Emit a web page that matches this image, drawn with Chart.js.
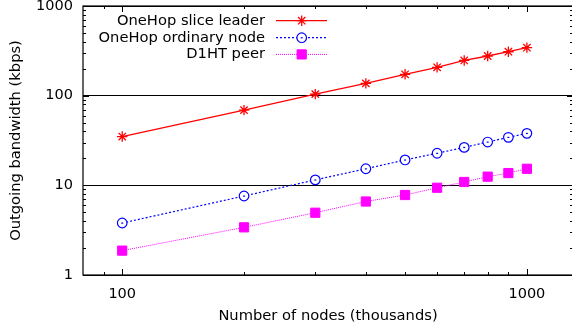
<!DOCTYPE html>
<html>
<head>
<meta charset="utf-8">
<title>Outgoing bandwidth vs. number of nodes</title>
<script src="https://cdn.jsdelivr.net/npm/chart.js"></script>
<style>
    html, body { margin: 0; padding: 0; overflow: hidden; background: #fff; }
    canvas { display: block; }
</style>
</head>
<body>
<canvas id="bwChart" width="576" height="333"></canvas>
<script>
    // number of nodes (thousands)
    const nodes = [100, 200, 300, 400, 500, 600, 700, 800, 900, 1000];
    // outgoing bandwidth (kbps)
    const sliceLeader = [35, 69, 104, 137, 173, 207, 247, 277, 309, 343];
    const ordinaryNode = [3.8, 7.6, 11.5, 15.3, 19.2, 22.8, 26.5, 30.4, 34.3, 38];
    const d1htPeer = [1.87, 3.4, 4.95, 6.6, 7.8, 9.4, 10.9, 12.5, 13.7, 15.3];

    const seriesNames = ['OneHop slice leader', 'OneHop ordinary node', 'D1HT peer'];
    const xTickValues = [100, 1000];
    const yTickValues = [1, 10, 100, 1000];

    const FONT = 'DejaVu Sans';

    function toPoints(ys) {
        return nodes.map((x, i) => ({ x: x, y: ys[i] }));
    }

    // draw a marker the same way the chart does
    function drawMarker(ctx, ds, x, y) {
        ctx.save();
        ctx.setLineDash([]);
        ctx.strokeStyle = ds.pointBorderColor;
        ctx.fillStyle = ds.pointBackgroundColor;
        ctx.lineWidth = ds.pointBorderWidth;
        Chart.helpers.drawPoint(ctx, {
            pointStyle: ds.pointStyle,
            radius: ds.pointRadius,
            rotation: 0,
            borderWidth: ds.pointBorderWidth
        }, x, y);
        ctx.restore();
    }

    // frame + inward tick marks on all four sides, gnuplot style
    const framePlugin = {
        id: 'frame',
        afterDraw(chart) {
            const ctx = chart.ctx;
            const a = chart.chartArea;
            const xs = chart.scales.x;
            const ys = chart.scales.y;
            ctx.save();
            ctx.strokeStyle = '#000';
            ctx.lineWidth = 1.2;
            ctx.strokeRect(a.left, a.top, a.right - a.left, a.bottom - a.top);

            ctx.lineWidth = 1;
            ctx.beginPath();
            [1, 10, 100].forEach(d => {
                for (let k = 1; k <= 9; k++) {
                    const py = Math.round(ys.getPixelForValue(k * d)) + 0.5;
                    const len = k === 1 ? 6 : 3;
                    ctx.moveTo(a.left, py); ctx.lineTo(a.left + len, py);
                    ctx.moveTo(a.right, py); ctx.lineTo(a.right - len, py);
                }
            });
            [90, 100, 200, 300, 400, 500, 600, 700, 800, 900, 1000].forEach(v => {
                const px = Math.round(xs.getPixelForValue(v)) + 0.5;
                const len = (v === 100 || v === 1000) ? 6 : 3;
                ctx.moveTo(px, a.bottom); ctx.lineTo(px, a.bottom - len);
                ctx.moveTo(px, a.top); ctx.lineTo(px, a.top + len);
            });
            ctx.stroke();
            ctx.restore();
        }
    };

    // small dash in the middle of the open circles
    const centreDotPlugin = {
        id: 'centreDot',
        afterDatasetsDraw(chart) {
            const ctx = chart.ctx;
            const meta = chart.getDatasetMeta(1);
            ctx.save();
            ctx.fillStyle = chart.data.datasets[1].borderColor;
            meta.data.forEach(pt => {
                ctx.fillRect(pt.x - 1, pt.y - 0.5, 2, 1.2);
            });
            ctx.restore();
        }
    };

    // key: right-aligned labels with line sample and marker
    const keyPlugin = {
        id: 'key',
        afterDraw(chart) {
            const ctx = chart.ctx;
            const textRight = 265, lineStart = 276, lineEnd = 327;
            const rows = [20.7, 37.7, 54.4];
            chart.data.datasets.forEach((ds, i) => {
                const y = rows[i];
                ctx.save();
                ctx.font = '14.7px "' + FONT + '"';
                ctx.fillStyle = '#000';
                ctx.textAlign = 'right';
                ctx.textBaseline = 'middle';
                ctx.fillText(ds.label, textRight, y);
                ctx.strokeStyle = ds.borderColor;
                ctx.lineWidth = ds.borderWidth;
                ctx.setLineDash(ds.borderDash || []);
                ctx.beginPath();
                ctx.moveTo(lineStart, y);
                ctx.lineTo(lineEnd, y);
                ctx.stroke();
                ctx.restore();
                drawMarker(ctx, ds, 301.7, y);
                if (i === 1) {
                    ctx.fillStyle = ds.borderColor;
                    ctx.fillRect(300.7, y - 0.5, 2, 1.2);
                }
            });
        }
    };

    const ctx = document.getElementById('bwChart').getContext('2d');
    new Chart(ctx, {
        type: 'line',
        data: {
            datasets: [{
                label: seriesNames[0],
                data: toPoints(sliceLeader),
                borderColor: '#ff0000',
                borderWidth: 1.3,
                pointStyle: 'star',
                pointRadius: 5.2,
                pointBorderWidth: 1.3,
                pointBorderColor: '#ff0000',
                pointBackgroundColor: '#ff0000'
            }, {
                label: seriesNames[1],
                data: toPoints(ordinaryNode),
                borderColor: '#0000ff',
                borderWidth: 1.2,
                borderDash: [2, 2],
                pointStyle: 'circle',
                pointRadius: 4.8,
                pointBorderWidth: 1.2,
                pointBorderColor: '#0000ff',
                pointBackgroundColor: '#ffffff'
            }, {
                label: seriesNames[2],
                data: toPoints(d1htPeer),
                borderColor: '#ff00ff',
                borderWidth: 1,
                borderDash: [1, 1],
                pointStyle: 'rect',
                pointRadius: 6.5,
                pointBorderWidth: 1,
                pointBorderColor: '#ff00ff',
                pointBackgroundColor: '#ff00ff'
            }]
        },
        options: {
            responsive: false,
            animation: false,
            devicePixelRatio: 1,
            layout: { autoPadding: false, padding: { top: 6, left: 0, right: 3, bottom: 0 } },
            elements: { line: { tension: 0, fill: false } },
            plugins: {
                legend: { display: false },
                tooltip: { enabled: false }
            },
            scales: {
                x: {
                    type: 'logarithmic',
                    min: 80,
                    max: 1300,
                    afterBuildTicks: s => { s.ticks = xTickValues.map(v => ({ value: v })); },
                    afterFit: s => { s.height = 58; s.paddingLeft = 0; s.paddingRight = 0; },
                    ticks: {
                        callback: v => String(v),
                        font: { family: FONT, size: 14.5 },
                        color: '#000',
                        padding: 11,
                        maxRotation: 0,
                        autoSkip: false
                    },
                    grid: { display: false, drawTicks: false },
                    border: { display: false },
                    title: {
                        display: true,
                        text: 'Number of nodes (thousands)',
                        font: { family: FONT, size: 14.7 },
                        color: '#000',
                        padding: { top: 0, bottom: 8 }
                    }
                },
                y: {
                    type: 'logarithmic',
                    min: 1,
                    max: 1000,
                    afterBuildTicks: s => { s.ticks = yTickValues.map(v => ({ value: v })); },
                    afterFit: s => { s.width = 83; s.paddingTop = 0; s.paddingBottom = 0; },
                    ticks: {
                        callback: v => String(v),
                        font: { family: FONT, size: 14.5 },
                        color: '#000',
                        padding: 10,
                        autoSkip: false
                    },
                    grid: { color: '#000', lineWidth: 1, drawTicks: false },
                    border: { display: false },
                    title: {
                        display: true,
                        text: 'Outgoing bandwidth (kbps)',
                        font: { family: FONT, size: 14.7 },
                        color: '#000',
                        padding: { top: 7.6, bottom: 0 }
                    }
                }
            }
        },
        plugins: [framePlugin, centreDotPlugin, keyPlugin]
    });
</script>
</body>
</html>
